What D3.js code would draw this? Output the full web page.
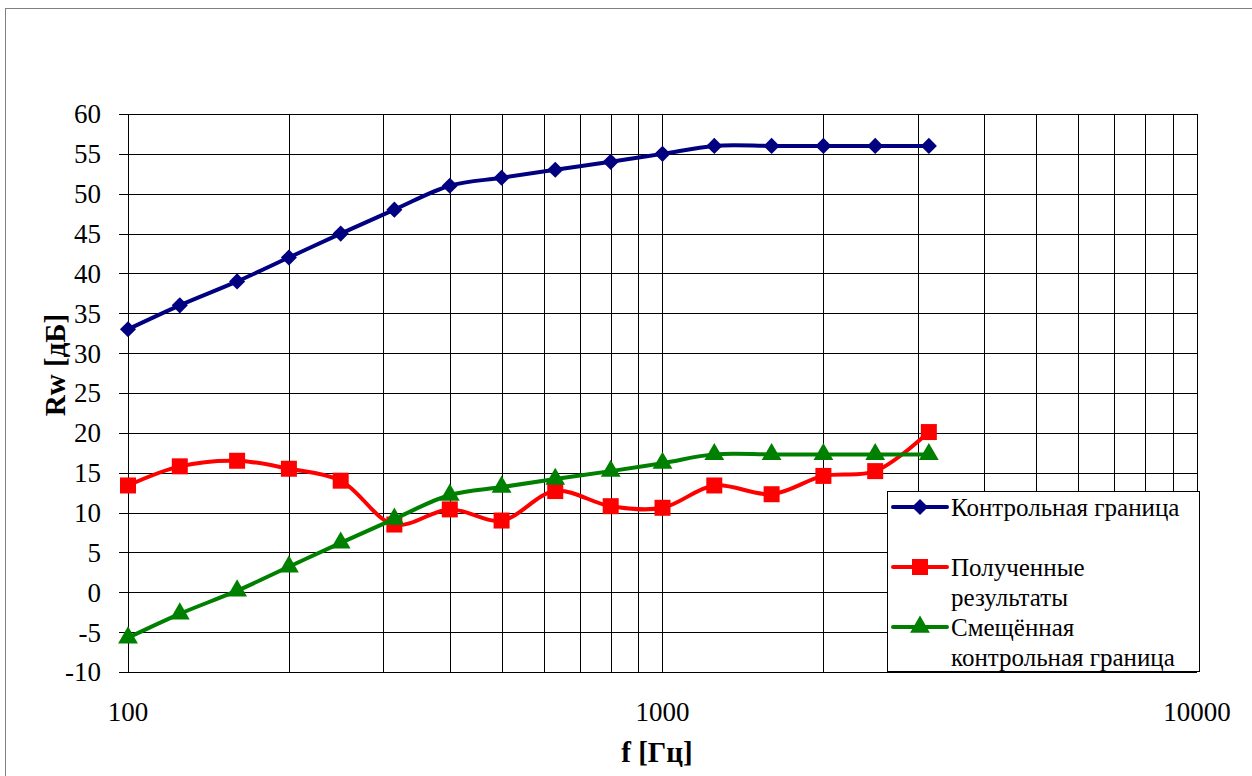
<!DOCTYPE html>
<html>
<head>
<meta charset="utf-8">
<script src="https://cdn.jsdelivr.net/npm/d3@7"></script>
<style>
	body { margin: 0; background: #fff; }
	svg text { font-family: "Liberation Serif", Tinos, "Times New Roman", Times, "DejaVu Serif", serif; }
</style>
</head>
<body>
<div id="chart"></div>
<script>
// frequencies, Hz
var freqs = [100, 125, 160, 200, 250, 315, 400, 500, 630, 800, 1000, 1250, 1600, 2000, 2500, 3150];
// Контрольная граница
var refCurve = [33, 36, 39, 42, 45, 48, 51, 52, 53, 54, 55, 56, 56, 56, 56, 56];
// Полученные результаты
var measured = [13.4, 15.8, 16.5, 15.5, 14, 8.5, 10.4, 9, 12.7, 10.8, 10.6, 13.4, 12.3, 14.6, 15.2, 20.1];
// Смещённая контрольная граница
var shifted = [-5.7, -2.7, 0.2, 3.2, 6.2, 9.2, 12.2, 13.2, 14.2, 15.2, 16.2, 17.3, 17.3, 17.3, 17.3, 17.3];

var yTicks = [-10, -5, 0, 5, 10, 15, 20, 25, 30, 35, 40, 45, 50, 55, 60];
var xLabels = [100, 1000, 10000];
var xGrid = [100, 200, 300, 400, 500, 600, 700, 800, 900, 1000,
	2000, 3000, 4000, 5000, 6000, 7000, 8000, 9000, 10000];

var series = [
	{ name: ["Контрольная граница"], values: refCurve, color: "#000080", symbol: "diamond" },
	{ name: ["Полученные", "результаты"], values: measured, color: "#ff0000", symbol: "square" },
	{ name: ["Смещённая", "контрольная граница"], values: shifted, color: "#008000", symbol: "triangle" }
];

(function() {
	var W = 1252, H = 776,
		left = 128, right = 1197, top = 114, bottom = 672;

	var svg = d3.select("#chart").append("svg")
		.attr("width", W)
		.attr("height", H)
		.style("display", "block");

	// outer chart frame
	svg.append("rect")
		.attr("x", 5.5).attr("y", 8.5)
		.attr("width", W).attr("height", H)
		.attr("fill", "#fff")
		.attr("stroke", "#808080");

	var x = d3.scaleLog().domain([100, 10000]).range([left, right]);
	var y = d3.scaleLinear().domain([-10, 60]).range([bottom, top]);

	var grid = svg.append("g").attr("stroke", "#000").attr("stroke-width", 1).attr("shape-rendering", "crispEdges");

	grid.selectAll(".h")
		.data(yTicks)
		.join("line")
		.attr("x1", left - 9).attr("x2", right)
		.attr("y1", d => Math.round(y(d)) + 0.5)
		.attr("y2", d => Math.round(y(d)) + 0.5);

	grid.selectAll(".v")
		.data(xGrid)
		.join("line")
		.attr("x1", d => Math.round(x(d)) + 0.5)
		.attr("x2", d => Math.round(x(d)) + 0.5)
		.attr("y1", top).attr("y2", bottom);

	// tick labels
	svg.append("g")
		.selectAll("text")
		.data(yTicks)
		.join("text")
		.attr("x", 101)
		.attr("y", d => y(d))
		.attr("dy", "0.35em")
		.attr("text-anchor", "end")
		.attr("font-size", 27)
		.text(d => d);

	svg.append("g")
		.selectAll("text")
		.data(xLabels)
		.join("text")
		.attr("x", d => x(d))
		.attr("y", 721)
		.attr("text-anchor", "middle")
		.attr("font-size", 27)
		.text(d => d);

	// axis titles
	svg.append("text")
		.attr("x", 657).attr("y", 762)
		.attr("text-anchor", "middle")
		.attr("font-size", 29)
		.attr("font-weight", "bold")
		.text("f [Гц]");

	svg.append("text")
		.attr("transform", "translate(65,365) rotate(-90)")
		.attr("text-anchor", "middle")
		.attr("font-size", 29)
		.attr("font-weight", "bold")
		.text("Rw [дБ]");

	var symbols = {
		diamond: d3.symbol().type(d3.symbolSquare).size(130),
		square: d3.symbol().type(d3.symbolSquare).size(256),
		triangle: d3.symbol().type(d3.symbolTriangle).size(170)
	};

	var line = d3.line()
		.x((d, i) => x(freqs[i]))
		.y(d => y(d))
		.curve(d3.curveCatmullRom.alpha(0.5));

	series.forEach(function(s) {
		var g = svg.append("g");
		g.append("path")
			.attr("d", line(s.values))
			.attr("fill", "none")
			.attr("stroke", s.color)
			.attr("stroke-width", 4)
			.attr("stroke-linejoin", "round");

		g.selectAll("path.m")
			.data(s.values)
			.join("path")
			.attr("class", "m")
			.attr("d", symbols[s.symbol])
			.attr("fill", s.color)
			.attr("transform", (d, i) => `translate(${x(freqs[i])},${y(d)})` + (s.symbol === "diamond" ? " rotate(45)" : ""));
	});

	// legend
	var lg = svg.append("g");
	lg.append("rect")
		.attr("x", 887.5).attr("y", 491.5)
		.attr("width", 312).attr("height", 180)
		.attr("fill", "#fff")
		.attr("stroke", "#000");

	var rows = [507, 567, 627];
	series.forEach(function(s, i) {
		var ly = rows[i];
		lg.append("line")
			.attr("x1", 893).attr("x2", 947)
			.attr("y1", ly).attr("y2", ly)
			.attr("stroke", s.color)
			.attr("stroke-width", 4)
			.attr("stroke-linecap", "round");
		lg.append("path")
			.attr("d", symbols[s.symbol])
			.attr("fill", s.color)
			.attr("transform", `translate(920,${ly})` + (s.symbol === "diamond" ? " rotate(45)" : ""));
		s.name.forEach(function(t, j) {
			lg.append("text")
				.attr("x", 951)
				.attr("y", ly + 9 + j * 30)
				.attr("font-size", 25)
				.text(t);
		});
	});
})();
</script>
</body>
</html>
